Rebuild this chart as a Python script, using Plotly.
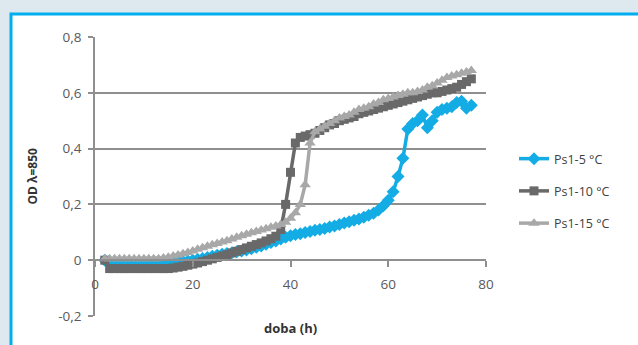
import plotly.graph_objects as go

hours = [2, 3, 4, 5, 6, 7, 8, 9, 10, 11, 12, 13, 14, 15, 16, 17, 18, 19,
         20, 21, 22, 23, 24, 25, 26, 27, 28, 29,
         30, 31, 32, 33, 34, 35, 36, 37, 38, 39,
         40, 41, 42, 43, 44, 45, 46, 47, 48, 49,
         50, 51, 52, 53, 54, 55, 56, 57, 58, 59,
         60, 61, 62, 63, 64, 65, 66, 67, 68, 69,
         70, 71, 72, 73, 74, 75, 76, 77]

ps1_5 = [0.0, -0.005, -0.005, -0.005, -0.005, -0.005, -0.005, -0.005, -0.005,
         -0.005, -0.005, -0.005, -0.005, -0.005, -0.005, -0.005, -0.005, -0.003,
         0.0, 0.003, 0.006, 0.01, 0.014, 0.018, 0.021, 0.024, 0.027, 0.03,
         0.033, 0.037, 0.041, 0.046, 0.051, 0.057, 0.063, 0.069, 0.076, 0.082,
         0.088, 0.092, 0.095, 0.099, 0.103, 0.107, 0.11, 0.114, 0.119, 0.123,
         0.128, 0.133, 0.138, 0.143, 0.148, 0.154, 0.161, 0.168, 0.18, 0.195,
         0.215, 0.245, 0.3, 0.365, 0.47, 0.49, 0.5, 0.52, 0.475, 0.5,
         0.53, 0.54, 0.545, 0.55, 0.565, 0.57, 0.545, 0.555]

ps1_10 = [0.0, -0.03, -0.03, -0.03, -0.03, -0.03, -0.03, -0.03, -0.03, -0.03,
          -0.03, -0.03, -0.03, -0.03, -0.028, -0.025, -0.022, -0.018,
          -0.014, -0.01, -0.005, 0.0, 0.005, 0.01, 0.015, 0.02, 0.026, 0.032,
          0.038, 0.044, 0.05, 0.056, 0.062, 0.069, 0.077, 0.086, 0.11, 0.2,
          0.315, 0.42, 0.44, 0.445, 0.45, 0.455, 0.465, 0.475, 0.485, 0.49,
          0.5, 0.505, 0.51, 0.515, 0.525, 0.53, 0.535, 0.54, 0.545, 0.55,
          0.555, 0.56, 0.565, 0.57, 0.575, 0.58, 0.585, 0.59, 0.595, 0.6,
          0.6, 0.605, 0.61, 0.615, 0.62, 0.63, 0.64, 0.65]

ps1_15 = [0.005, 0.005, 0.005, 0.005, 0.005, 0.005, 0.005, 0.005, 0.005, 0.005,
          0.005, 0.005, 0.008, 0.011, 0.015, 0.019, 0.023, 0.028,
          0.033, 0.039, 0.045, 0.05, 0.055, 0.06, 0.065, 0.07, 0.076, 0.082,
          0.088, 0.093, 0.098, 0.103, 0.108, 0.113, 0.118, 0.123, 0.128, 0.136,
          0.15, 0.17, 0.2, 0.27, 0.42, 0.46, 0.47, 0.48, 0.49, 0.5,
          0.51, 0.515, 0.52, 0.53, 0.54, 0.545, 0.55, 0.56, 0.565, 0.575,
          0.58, 0.585, 0.59, 0.595, 0.6, 0.6, 0.605, 0.61, 0.62, 0.625,
          0.635, 0.645, 0.655, 0.66, 0.665, 0.67, 0.675, 0.68]

series_names = ["Ps1-5 °C", "Ps1-10 °C", "Ps1-15 °C"]
y_tick_vals = [-0.2, 0, 0.2, 0.4, 0.6, 0.8]
y_tick_text = ["-0,2", "0", "0,2", "0,4", "0,6", "0,8"]
x_tick_vals = [0, 20, 40, 60, 80]
x_tick_text = ["0", "20", "40", "60", "80"]

FONT = "Open Sans"
GRID = "#8f8f8f"

fig = go.Figure()
styles = [
    ("#14ace4", "diamond", 10),
    ("#696969", "square", 9),
    ("#a8a8a8", "triangle-up", 10),
]
for name, vals, (col, sym, msize) in zip(series_names, [ps1_5, ps1_10, ps1_15], styles):
    fig.add_trace(go.Scatter(
        x=hours, y=vals, name=name, mode="lines+markers",
        line=dict(color=col, width=3.5),
        marker=dict(color=col, symbol=sym, size=msize, line=dict(width=0)),
        legendgroup=name,
    ))

W, H = 638, 345
L, R, T, B = 95, 638 - 486, 37, 345 - 316
pw, ph = W - L - R, H - T - B

def px(x):
    return (x - L) / pw

def py(y):
    return (H - B - y) / ph

fig.update_layout(
    width=W, height=H,
    margin=dict(l=L, r=R, t=T, b=B, pad=0),
    paper_bgcolor="#dde8ef",
    plot_bgcolor="rgba(0,0,0,0)",
    font=dict(family=FONT, size=13, color="#595959"),
    showlegend=True,
    legend=dict(
        x=px(514), y=py(144), xanchor="left", yanchor="top",
        font=dict(family=FONT, size=12.5, color="#404040"),
        tracegroupgap=13, bgcolor="rgba(0,0,0,0)",
    ),
    shapes=[dict(
        type="rect", xref="paper", yref="paper", layer="below",
        x0=px(11), x1=px(660), y0=py(370), y1=py(14),
        fillcolor="white", line=dict(color="#00aeef", width=3),
    )],
    annotations=[
        dict(text="<b>OD λ=850</b>", textangle=-90, x=px(32), y=0.5,
             xref="paper", yref="paper", xanchor="center", yanchor="middle",
             showarrow=False, font=dict(family=FONT, size=12, color="#333333")),
        dict(text="<b>doba (h)</b>", x=px(290), y=py(328),
             xref="paper", yref="paper", xanchor="center", yanchor="middle",
             showarrow=False, font=dict(family=FONT, size=13, color="#333333")),
    ],
)
fig.update_xaxes(
    range=[0, 80], tickvals=x_tick_vals, ticktext=x_tick_text,
    showgrid=False, zeroline=False, showline=True, linecolor=GRID, linewidth=1.5,
    ticks="outside", ticklen=6, tickcolor=GRID, tickwidth=1.5,
    anchor="free", position=0.2, ticklabelstandoff=6,
    tickfont=dict(family=FONT, size=13.5, color="#595959"),
)
fig.update_yaxes(
    range=[-0.2, 0.8], tickvals=y_tick_vals, ticktext=y_tick_text,
    showgrid=True, gridcolor=GRID, gridwidth=1.5, zeroline=False,
    showline=True, linecolor=GRID, linewidth=1.5,
    ticks="outside", ticklen=5, tickcolor=GRID, tickwidth=1.5,
    ticklabelstandoff=4,
    tickfont=dict(family=FONT, size=13.5, color="#595959"),
)
fig.write_html("out.html")
